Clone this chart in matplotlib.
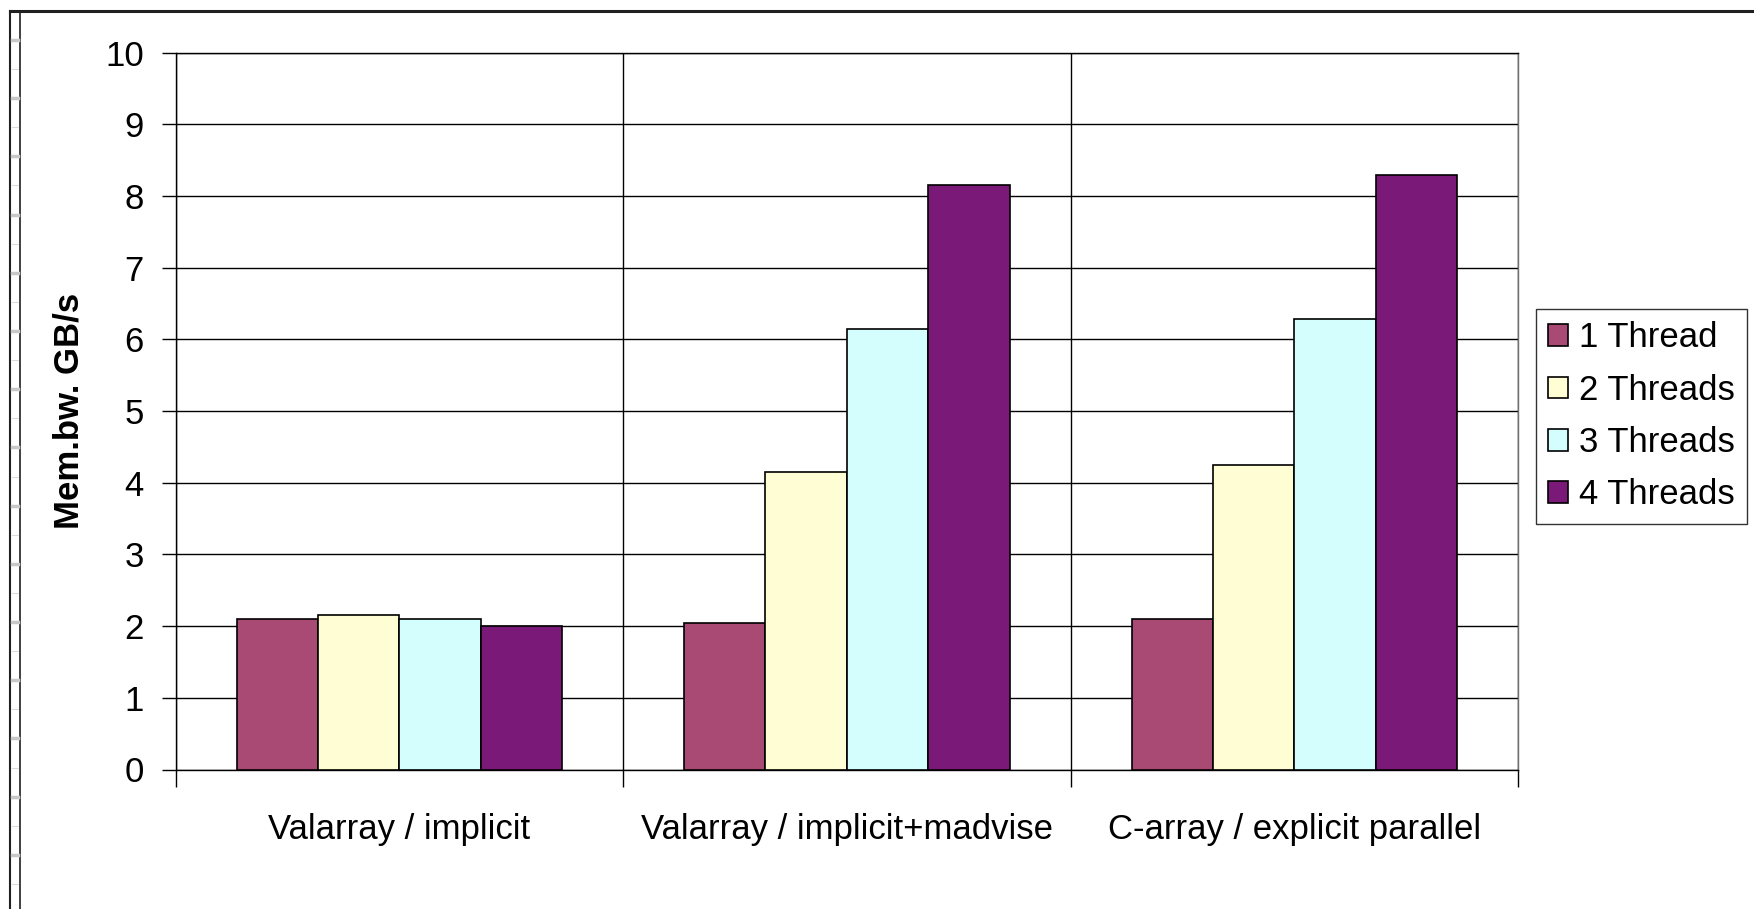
import matplotlib
matplotlib.use("Agg")
import matplotlib.pyplot as plt
import numpy as np
from matplotlib.lines import Line2D

categories = ["Valarray / implicit", "Valarray / implicit+madvise", "C-array / explicit parallel"]
series_names = ["1 Thread", "2 Threads", "3 Threads", "4 Threads"]
thread1 = [2.10, 2.05, 2.10]
thread2 = [2.15, 4.15, 4.25]
thread3 = [2.10, 6.15, 6.29]
thread4 = [2.00, 8.15, 8.30]
y_ticks = [0, 1, 2, 3, 4, 5, 6, 7, 8, 9, 10]
y_label = "Mem.bw. GB/s"
colors = ["#A94A75", "#FFFDD4", "#D4FDFE", "#7A1978"]

plt.rcParams['font.family'] = ['Liberation Sans', 'DejaVu Sans']
FS = 25

W, H = 1754, 909
fig = plt.figure(figsize=(W / 100, H / 100), dpi=100)
ax = fig.add_axes([175.6 / W, 1 - 769.5 / H, (1518 - 175.6) / W, (769.5 - 52.7) / H])

series = [thread1, thread2, thread3, thread4]
n = len(series)
bw = 1.0 / 5.5
x = np.arange(len(categories))
for i, (vals, c, name) in enumerate(zip(series, colors, series_names)):
    offs = (i - (n - 1) / 2) * bw
    ax.bar(x + offs, vals, width=bw, color=c, edgecolor="black", linewidth=1.2,
           label=name, zorder=3)

ax.set_xlim(-0.5, len(categories) - 0.5)
ax.set_ylim(0, 10)
ax.set_yticks(y_ticks)
ax.set_yticklabels([str(t) for t in y_ticks])
ax.tick_params(axis='y', labelsize=FS, length=10, width=1, pad=13, direction='out')
# category boundary ticks / gridlines
ax.set_xticks(np.arange(-0.5, len(categories) + 0.5, 1.0))
ax.set_xticklabels([])
ax.set_xticks(x, minor=True)
ax.set_xticklabels(categories, minor=True)
ax.tick_params(axis='x', which='major', length=12, width=1, direction='out')
ax.tick_params(axis='x', which='minor', length=0, labelsize=FS, pad=31)
ax.grid(True, axis='both', which='major', color='black', linewidth=1.0, zorder=0)
ax.set_axisbelow(True)
for s in ax.spines.values():
    s.set_color('black')
    s.set_linewidth(1.0)
ax.spines['right'].set_color('#707070')

ax.set_ylabel(y_label, fontsize=FS, fontweight='bold', labelpad=14)

leg = fig.legend(loc='upper left', bbox_to_anchor=(1536 / W, 1 - 309 / H),
                 fontsize=FS, frameon=True, fancybox=False, edgecolor='black',
                 handlelength=0.58, handleheight=0.58, handletextpad=0.32,
                 labelspacing=0.56, borderpad=0.35, borderaxespad=0)
leg.get_frame().set_linewidth(1.0)

# outer frame decoration
fig.add_artist(Line2D([10 / W, 1], [1 - 11 / H, 1 - 11 / H], color='#202020', linewidth=2.2,
                      transform=fig.transFigure))
fig.add_artist(Line2D([10 / W, 10 / W], [0, 1 - 11 / H], color='#202020', linewidth=1.5,
                      transform=fig.transFigure))
fig.add_artist(Line2D([20 / W, 20 / W], [0, 1 - 11 / H], color='#202020', linewidth=1.2,
                      transform=fig.transFigure))
yy = 40.0
k = 0
while yy < H:
    if k % 2 == 0:
        fig.add_artist(Line2D([12 / W, 17.5 / W], [1 - yy / H, 1 - yy / H], color='#c8c8c8',
                              linewidth=2.5, transform=fig.transFigure))
    else:
        fig.add_artist(Line2D([12 / W, 18 / W], [1 - yy / H, 1 - yy / H], color='#dcdcdc',
                              linewidth=0.8, transform=fig.transFigure))
    yy += 29.1
    k += 1

fig.savefig("out.png", dpi=100)
